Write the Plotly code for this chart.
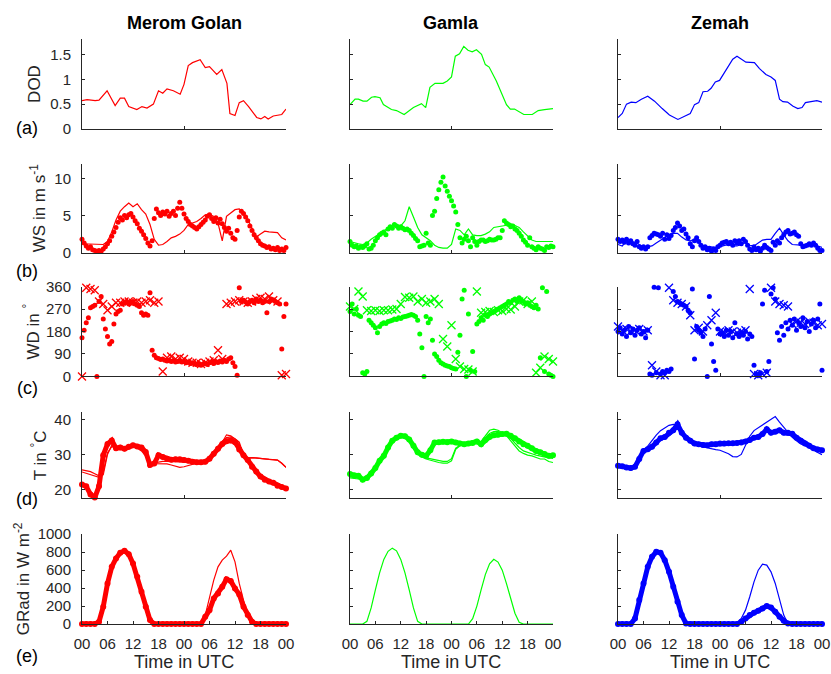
import plotly.graph_objects as go
from plotly.subplots import make_subplots

# ---------------- DATA ----------------
STATIONS = ["Merom Golan", "Gamla", "Zemah"]
ROW_LABELS = ["(a)", "(b)", "(c)", "(d)", "(e)"]
X_TICKS = [0, 6, 12, 18, 24, 30, 36, 42, 48]
X_TICKTEXT = ["00", "06", "12", "18", "00", "06", "12", "18", "00"]

HALF_HOURS = [i * 0.5 for i in range(97)]   # sampling grid of the observations
HOURS = list(range(49))                      # sampling grid of the model output

# DOD (model)
dod_t_merom = [0, 1.2, 3.1, 4, 5.9, 7.8, 9, 10, 11, 12.9, 14.1, 15.3, 16.8, 18, 19, 20, 21.5, 23.1, 24, 25,
               26, 27.8, 29, 30, 31.7, 32.9, 34.1, 34.8, 36, 37, 38, 39.2, 41.1, 42.1, 43, 43.8, 45, 47, 48]
dod_merom = [0.57, 0.59, 0.57, 0.58, 0.77, 0.47, 0.62, 0.62, 0.45, 0.39, 0.45, 0.42, 0.5, 0.77, 0.72, 0.81, 0.77,
             0.7, 0.9, 1.28, 1.34, 1.4, 1.24, 1.26, 1.1, 1.2, 0.92, 0.31, 0.27, 0.53, 0.57, 0.45, 0.23, 0.2, 0.25,
             0.2, 0.26, 0.29, 0.4]
dod_t_gamla = [0, 1.2, 2, 3.1, 4, 5.1, 5.9, 7.1, 7.9, 9.8, 11, 12.8, 15, 16.9, 17.9, 18.9, 20.1, 22, 23, 24,
               24.9, 25.9, 26.9, 27.9, 28.9, 29.9, 31.1, 32, 32.9, 34.6, 37, 37.9, 38.9, 41.1, 43.1, 44.5, 46, 48]
dod_gamla = [0.49, 0.6, 0.6, 0.56, 0.56, 0.64, 0.65, 0.63, 0.49, 0.39, 0.37, 0.29, 0.43, 0.51, 0.43, 0.84, 0.92,
             0.92, 0.97, 1.05, 1.47, 1.52, 1.67, 1.59, 1.56, 1.6, 1.51, 1.3, 1.25, 0.97, 0.49, 0.4, 0.4, 0.29, 0.29,
             0.37, 0.39, 0.41]
dod_t_zemah = [0, 1, 2, 3.1, 4.2, 5.5, 7, 8.6, 10.4, 12.1, 14.1, 15.7, 17, 18, 19, 20, 21.1, 21.9, 22.9, 23.9,
               25.4, 27, 28, 29, 30.1, 32.1, 33.3, 34.8, 36, 37, 38, 38.8, 39.9, 41.1, 42.3, 43.3, 44.1, 45.4, 46.8, 48]
dod_zemah = [0.23, 0.31, 0.5, 0.54, 0.53, 0.6, 0.66, 0.56, 0.41, 0.28, 0.19, 0.25, 0.31, 0.49, 0.53, 0.75, 0.76,
             0.82, 0.95, 0.98, 1.2, 1.41, 1.47, 1.42, 1.35, 1.34, 1.22, 1.1, 1.05, 0.98, 0.6, 0.55, 0.54, 0.46,
             0.41, 0.43, 0.53, 0.55, 0.57, 0.54]

# Wind speed, observations (half-hourly) and model (hourly)
ws_obs_merom = [1.8, 1.3, 0.9, 0.6, 0.8, 0.4, 0.3, 0.2, 0.3, 0.2,
                0.5, 0.8, 1.2, 1.6, 2.2, 2.8, 3.4, 4.1, 4.7, 4.4,
                5.0, 4.7, 5.1, 5.3, 4.8, 4.3, 3.9, 3.3, 2.9, 2.4,
                1.9, 1.3, 0.9, 1.6, 4.6, 5.9, 5.4, 5.0, 5.5, 5.2,
                5.6, 4.9, 5.3, 5.6, 5.0, 6.0, 6.8, 6.0, 5.2, 4.6,
                4.2, 3.8, 3.6, 3.4, 3.2, 3.5, 3.8, 4.1, 4.4, 4.9,
                5.1, 4.6, 4.2, 4.7, 4.0, 4.5, 3.9, 3.4, 2.9, 3.3,
                2.6, 2.0, 1.8, 3.0, 4.8, 5.6, 5.3, 4.8, 4.3, 3.6,
                3.0, 2.4, 2.0, 1.6, 1.2, 1.0, 0.9, 0.7, 0.8, 0.5,
                0.6, 0.4, 0.7, 0.3, 0.5, 0.3, 0.7]
ws_obs_gamla = [1.5, 1.0, 0.8, 0.9, 0.6, 0.8, 0.7, 0.9, 1.2, 0.5,
                0.6, 1.0, 1.6, 2.0, 2.4, 2.6, 2.8, 2.4, 3.2, 3.5,
                3.3, 3.8, 3.6, 3.3, 3.5, 3.3, 3.1, 3.2, 3.0, 2.6,
                2.3, 1.9, 1.6, 0.8, 0.9, 1.0, 2.6, 1.3, 1.0, 5.0,
                5.6, 7.3, 8.5, 9.5, 10.2, 9.0, 8.3, 7.6, 7.0, 6.3,
                5.5, 3.8, 2.0, 1.3, 1.8, 2.2, 1.6, 0.8, 2.0, 1.5,
                1.0, 1.5, 1.7, 1.7, 1.5, 1.6, 1.8, 1.7, 1.7, 1.8,
                2.0, 2.0, 3.0, 4.3, 4.0, 3.8, 3.5, 3.6, 3.2, 3.0,
                2.6, 2.2, 1.7, 1.4, 1.0, 2.0, 0.8, 0.6, 0.4, 0.8,
                0.6, 0.5, 0.3, 0.8, 0.7, 0.9, 0.8]
ws_obs_zemah = [1.8, 1.5, 1.7, 1.4, 1.8, 1.3, 1.6, 1.2, 1.0, 1.5,
                0.8, 0.6, 0.8, 0.5, 0.8, 2.0, 2.3, 2.6, 2.5, 2.4,
                2.2, 2.6, 1.8, 2.4, 1.9, 2.3, 3.0, 3.4, 4.0, 3.6,
                3.0, 3.2, 2.5, 2.0, 1.2, 0.8, 1.6, 2.0, 1.5, 1.0,
                0.6, 0.8, 0.4, 0.6, 0.2, 0.5, 0.3, 0.8, 1.0, 1.3,
                1.4, 1.5, 1.2, 1.4, 1.0, 1.6, 1.3, 1.6, 1.2, 1.8,
                1.5, 1.0, 0.5, 0.3, 0.8, 0.4, 0.6, 0.2, 0.6, 1.0,
                0.7, 0.5, 0.3, 1.4, 1.0, 1.6, 1.3, 2.0, 2.4, 2.8,
                3.0, 2.5, 2.6, 2.8, 2.4, 2.2, 1.2, 0.8, 0.9, 1.0,
                1.2, 1.0, 1.3, 1.0, 0.6, 0.3, 0.3]
ws_mod_merom = [1.2, 1.2, 1.2, 1.1, 1.1, 1.1, 1.5, 2.8, 4.4, 5.6,
                6.2, 6.7, 6.2, 6.6, 5.8, 5.2, 3.8, 1.8, 1.0, 1.1,
                1.5, 2.0, 2.2, 2.5, 3.0, 3.8, 4.0, 4.2, 4.6, 5.1,
                5.2, 4.9, 4.0, 1.6, 4.9, 5.3, 5.8, 5.9, 5.3, 4.5,
                3.4, 2.1, 2.5, 2.9, 2.8, 2.7, 2.7, 2.0, 1.7]
ws_mod_gamla = [1.5, 1.3, 1.2, 1.1, 1.3, 1.8, 2.2, 2.5, 2.9, 3.3,
                3.7, 3.8, 3.6, 4.3, 6.2, 4.8, 3.4, 2.4, 2.0, 1.6,
                1.0, 0.7, 0.6, 0.6, 1.1, 3.2, 3.0, 2.4, 3.2, 2.4,
                2.3, 2.3, 2.5, 2.8, 3.4, 3.5, 3.5, 3.7, 3.9, 3.7,
                3.4, 2.8, 2.2, 1.7, 1.5, 1.5, 1.6, 1.5, 1.5]
ws_mod_zemah = [1.1, 0.9, 1.6, 1.5, 1.4, 1.1, 0.8, 0.8, 0.9, 1.3,
                1.7, 2.0, 2.4, 2.6, 2.6, 2.1, 1.7, 1.6, 1.8, 1.5,
                1.0, 0.8, 0.7, 0.7, 0.8, 1.0, 1.1, 0.9, 0.9, 1.1,
                1.4, 1.0, 0.9, 1.3, 1.7, 1.8, 1.8, 2.6, 3.3, 2.4,
                1.6, 1.1, 1.0, 1.0, 1.1, 1.2, 1.1, 0.9, 0.7]

# Wind direction
wd_obs_merom = [155, 185, 215, 235, 275, 280, 285, 0, 300, 320,
                230, 190, 160, 130, 140, 210, 250, 260, 265, 290,
                295, 300, 290, 295, 300, 290, 285, 280, 255, 245,
                250, 245, 335, 105, 85, 75, 72, 68, 70, 65,
                62, 66, 60, 63, 58, 60, 62, 58, 60, 55,
                58, 52, 55, 50, 48, 52, 45, 50, 52, 48,
                55, 58, 52, 60, 56, 62, 58, 65, 60, 70,
                75, 55, 40, 5, 355, 300, 305, 298, 290, 300,
                305, 295, 310, 300, 305, 295, 300, 255, 300, 310,
                305, 300, 295, 290, 110, 240, 290]
wd_obs_gamla = [260, 290, 250, 270, 245, 240, 15, 10, 20, 225,
                215, 205, 195, 175, 200, 210, 215, 212, 220, 222,
                225, 230, 228, 235, 232, 238, 240, 242, 245, 248,
                245, 240, 225, 170, 115, 0, 240, 215, 230, 145,
                90, 80, 65, 55, 50, 45, 42, 40, 35, 32,
                30, 97, 165, 310, 345, 0, 250, 25, 100, 20,
                210, 220, 235, 225, 245, 240, 250, 255, 260, 265,
                270, 275, 280, 285, 290, 300, 295, 305, 310, 300,
                315, 305, 300, 290, 295, 285, 280, 275, 285, 270,
                75, 355, 20, 340, 10, 5, 0]
wd_obs_zemah = [180, 195, 170, 185, 160, 200, 175, 190, 165, 185,
                195, 170, 180, 155, 185, 10, 5, 357, 15, 355,
                10, 20, 15, 25, 20, 30, 340, 320, 300, 295,
                290, 285, 280, 265, 255, 350, 70, 200, 185, 175,
                160, 190, 0, 320, 130, 60, 25, 190, 170, 175,
                160, 185, 165, 180, 155, 215, 170, 160, 175, 165,
                180, 150, 170, 160, 45, 10, 5, 15, 290, 345,
                20, 60, 330, 355, 310, 175, 145, 200, 165, 215,
                190, 225, 205, 230, 185, 215, 200, 235, 195, 220,
                180, 210, 225, 195, 230, 290, 25]
wd_mod_merom = [0, 355, 350, 345, 300, 290, 265, 280, 295, 295,
                300, 300, 295, 300, 295, 300, 305, 295, 300, 20,
                75, 80, 70, 75, 70, 60, 55, 55, 50, 55,
                60, 65, 105, 70, 290, 295, 300, 305, 300, 295,
                300, 310, 315, 310, 320, 305, 300, 5, 10]
wd_mod_gamla = [280, 270, 340, 320, 265, 262, 265, 262, 265, 265,
                268, 270, 290, 318, 315, 320, 300, 310, 295, 300,
                310, 290, 150, 120, 205, 70, 40, 30, 28, 20,
                340, 255, 258, 262, 258, 265, 262, 270, 268, 280,
                300, 305, 290, 300, 15, 35, 80, 70, 60]
wd_mod_zemah = [200, 185, 190, 180, 185, 190, 180, 185, 45, 20,
                5, 5, 355, 305, 295, 290, 280, 245, 185, 195,
                180, 205, 225, 255, 180, 175, 185, 180, 175, 180,
                185, 350, 10, 5, 10, 15, 355, 300, 290, 285,
                280, 210, 220, 215, 210, 220, 215, 205, 210]

# Temperature (hourly)
t_obs_merom = [21.4, 20.9, 18.6, 17.7, 20.9, 29.8, 33.0, 34.0, 31.8, 32.0,
               31.6, 32.2, 32.6, 32.3, 32.0, 30.7, 27.0, 27.4, 29.8, 29.3,
               28.8, 28.5, 28.6, 28.6, 28.4, 28.2, 27.9, 27.8, 27.8, 27.9,
               28.8, 30.2, 31.6, 33.0, 33.8, 34.0, 33.5, 31.4, 29.8, 28.4,
               26.5, 25.1, 23.7, 22.8, 22.3, 21.9, 21.1, 20.7, 20.3]
t_mod_merom_a = [25.6, 25.4, 25.1, 24.5, 23.9, 24.2, 30.0, 32.6, 32.0, 32.0,
                 32.1, 32.2, 32.4, 32.0, 31.6, 30.5, 27.9, 27.4, 27.4, 27.3,
                 27.3, 27.0, 26.7, 26.3, 26.5, 26.9, 27.3, 27.5, 27.6, 28.0,
                 28.8, 30.0, 31.2, 33.5, 35.6, 35.3, 34.4, 33.0, 29.3, 28.8,
                 29.1, 29.0, 28.8, 28.7, 28.6, 28.5, 28.4, 27.5, 26.3]
t_mod_merom_b = [25.0, 24.6, 24.2, 23.8, 23.5, 25.0, 30.5, 32.2, 31.8, 31.6,
                 31.8, 32.0, 32.2, 31.8, 31.0, 29.5, 27.5, 27.6, 27.9, 28.0,
                 28.0, 27.9, 27.8, 27.7, 27.8, 27.9, 28.0, 28.0, 27.9, 28.2,
                 29.0, 30.5, 32.0, 33.8, 34.8, 35.0, 34.5, 33.5, 30.0, 29.0,
                 29.1, 29.0, 28.8, 28.7, 28.6, 28.5, 28.4, 27.5, 26.3]
t_obs_gamla = [24.4, 24.0, 23.9, 22.8, 23.3, 24.6, 26.1, 28.2, 29.6, 32.0,
               33.9, 34.8, 35.3, 35.2, 34.3, 32.5, 30.6, 29.9, 29.6, 31.2,
               33.4, 33.5, 33.6, 33.5, 33.7, 33.4, 33.1, 32.9, 33.1, 33.3,
               33.7, 32.9, 34.1, 35.0, 35.5, 35.6, 35.8, 35.9, 35.3, 34.6,
               33.7, 32.9, 32.5, 31.8, 31.0, 30.6, 30.1, 29.6, 29.8]
t_mod_gamla_a = [23.3, 23.2, 23.0, 22.7, 23.0, 24.5, 26.0, 28.0, 30.0, 32.0,
                 33.5, 34.5, 35.0, 35.0, 34.0, 32.5, 30.5, 29.3, 28.7, 28.3,
                 28.0, 27.7, 27.5, 27.5, 28.2, 31.5, 32.5, 32.7, 32.9, 33.4,
                 33.9, 33.7, 35.3, 36.9, 37.2, 36.9, 36.2, 35.3, 33.9, 32.5,
                 31.0, 30.3, 29.8, 29.6, 29.2, 28.7, 28.7, 28.0, 27.7]
t_mod_gamla_b = [23.6, 23.5, 23.3, 23.0, 23.2, 24.8, 26.3, 28.3, 30.2, 32.2,
                 33.6, 34.6, 35.1, 35.0, 34.2, 32.8, 30.8, 29.6, 29.0, 28.7,
                 28.4, 28.2, 28.0, 28.0, 28.8, 31.8, 32.6, 32.8, 33.0, 33.3,
                 33.6, 33.5, 34.8, 36.0, 36.5, 36.6, 36.0, 35.5, 34.5, 33.2,
                 32.0, 31.0, 30.5, 30.2, 29.8, 29.5, 29.2, 29.0, 28.9]
t_obs_zemah = [26.8, 26.6, 26.3, 26.1, 26.5, 28.7, 31.0, 31.5, 32.2, 33.4,
               34.6, 35.0, 36.2, 36.9, 38.6, 36.2, 34.8, 33.9, 33.1, 32.9,
               32.7, 32.6, 32.9, 32.9, 33.1, 33.1, 33.2, 33.2, 33.3, 33.4,
               33.7, 34.1, 34.8, 35.0, 35.8, 37.2, 36.2, 36.5, 36.9, 36.2,
               36.2, 35.9, 34.8, 33.9, 33.1, 32.5, 31.8, 31.4, 31.2]
t_mod_zemah = [26.3, 26.2, 26.1, 26.0, 26.3, 28.0, 30.8, 32.4, 33.8, 35.5,
               36.8, 37.6, 38.3, 38.6, 38.4, 36.5, 34.3, 33.6, 32.8, 32.4,
               32.1, 31.9, 31.6, 31.4, 31.2, 30.8, 30.2, 29.4, 29.3, 30.0,
               32.6, 35.2, 36.8, 37.6, 38.3, 39.0, 39.9, 40.8, 39.2, 37.8,
               36.2, 34.9, 33.9, 33.0, 32.5, 31.8, 31.1, 30.6, 29.9]

# Global radiation (hourly)
g_obs_merom = [0, 0, 0, 0, 26, 193, 452, 637, 730, 793,
               815, 778, 674, 526, 359, 193, 44, 0, 0, 0,
               0, 0, 0, 0, 0, 0, 0, 0, 0, 81,
               155, 285, 341, 415, 500, 480, 396, 330, 193, 100,
               26, 0, 0, 0, 0, 0, 0, 0, 0]
g_mod_merom = [0, 0, 0, 0, 20, 190, 450, 640, 730, 795,
               815, 775, 675, 525, 360, 190, 40, 0, 0, 0,
               0, 0, 0, 0, 0, 0, 0, 0, 0, 100,
               285, 489, 637, 711, 756, 822, 693, 452, 267, 118,
               0, 0, 0, 0, 0, 0, 0, 0, 0]
g_mod_gamla = [0, 0, 0, 0, 30, 180, 380, 570, 720, 810,
               845, 815, 720, 570, 380, 180, 30, 0, 0, 0,
               0, 0, 0, 0, 0, 0, 0, 0, 0, 60,
               200, 380, 550, 670, 720, 690, 600, 450, 280, 120,
               20, 0, 0, 0, 0, 0, 0, 0, 0]
g_obs_zemah = [0, 0, 0, 0, 63, 267, 452, 637, 748, 804,
               793, 711, 581, 415, 248, 100, 7, 0, 0, 0,
               0, 0, 0, 0, 0, 0, 0, 0, 0, 26,
               63, 100, 126, 148, 174, 200, 185, 137, 81, 37,
               7, 0, 0, 0, 0, 0, 0, 0, 0]
g_mod_zemah = [0, 0, 0, 0, 63, 267, 452, 637, 748, 804,
               793, 711, 581, 415, 248, 100, 7, 0, 0, 0,
               0, 0, 0, 0, 0, 0, 0, 0, 0, 63,
               155, 304, 470, 600, 667, 656, 581, 452, 267, 100,
               0, 0, 0, 0, 0, 0, 0, 0, 0]

# ---------------- FIGURE ----------------
# The paper area ends up inset by 8px inside the figure div, so the div is made
# 16px larger and pinned at (-8, -8): the paper then covers the 831x674 window.
PW, PH = 831, 674
INSET = 8
COLORS = ["#ff0000", "#00ff00", "#0000ff"]
AX = "#262626"
FONT = "Liberation Sans"

fig = make_subplots(rows=5, cols=3)

def obs_dots(x, y, color, r, c, size=5):
    fig.add_trace(go.Scatter(x=x, y=y, mode="markers", cliponaxis=False,
                             marker=dict(color=color, size=size, line=dict(width=0))), row=r, col=c)

def thick(x, y, color, r, c):
    fig.add_trace(go.Scatter(x=x, y=y, mode="lines+markers", cliponaxis=False,
                             line=dict(color=color, width=5),
                             marker=dict(color=color, size=6)), row=r, col=c)

def model_line(x, y, color, r, c):
    fig.add_trace(go.Scatter(x=x, y=y, mode="lines", line=dict(color=color, width=1.2)), row=r, col=c)

def crosses(x, y, color, r, c):
    fig.add_trace(go.Scatter(x=x, y=y, mode="markers", cliponaxis=False,
                             marker=dict(symbol="x-thin", size=8, color=color,
                                         line=dict(color=color, width=1.3))), row=r, col=c)

dod_t = [dod_t_merom, dod_t_gamla, dod_t_zemah]
dod_v = [dod_merom, dod_gamla, dod_zemah]
ws_o = [ws_obs_merom, ws_obs_gamla, ws_obs_zemah]
ws_m = [ws_mod_merom, ws_mod_gamla, ws_mod_zemah]
wd_o = [wd_obs_merom, wd_obs_gamla, wd_obs_zemah]
wd_m = [wd_mod_merom, wd_mod_gamla, wd_mod_zemah]
t_o = [t_obs_merom, t_obs_gamla, t_obs_zemah]
t_m = [[t_mod_merom_a, t_mod_merom_b], [t_mod_gamla_a, t_mod_gamla_b], [t_mod_zemah]]
g_o = [g_obs_merom, None, g_obs_zemah]
g_m = [g_mod_merom, g_mod_gamla, g_mod_zemah]

for c in range(3):
    col = COLORS[c]
    model_line(dod_t[c], dod_v[c], col, 1, c + 1)
    obs_dots(HALF_HOURS, ws_o[c], col, 2, c + 1)
    model_line(HOURS, ws_m[c], col, 2, c + 1)
    obs_dots(HALF_HOURS, wd_o[c], col, 3, c + 1)
    crosses(HOURS, wd_m[c], col, 3, c + 1)
    thick(HOURS, t_o[c], col, 4, c + 1)
    for m in t_m[c]:
        model_line(HOURS, m, col, 4, c + 1)
    if g_o[c] is not None:
        thick(HOURS, g_o[c], col, 5, c + 1)
    model_line(HOURS, g_m[c], col, 5, c + 1)

# positions in window pixels
col_px = [(82, 286), (350, 553), (618, 822)]
row_px = [(38, 128), (163, 252), (286, 376), (412, 498), (534, 624)]
y_ranges = [[0, 1.82], [0, 12], [0, 360], [17.5, 42], [0, 1000]]
y_ticks = [[0, 0.5, 1, 1.5], [0, 5, 10], [0, 90, 180, 270, 360], [20, 30, 40], [0, 200, 400, 600, 800, 1000]]
y_ticktext = [["0", "0.5", "1", "1.5"], ["0", "5", "10"], ["0", "90", "180", "270", "360"],
              ["20", "30", "40"], ["0", "200", "400", "600", "800", "1000"]]

def px_x(x):
    return x / PW

def px_y(y):
    return 1 - y / PH

tickfont = dict(family=FONT, size=15, color=AX)
for r in range(5):
    for c in range(3):
        idx = r * 3 + c + 1
        xs = "xaxis" if idx == 1 else f"xaxis{idx}"
        ys = "yaxis" if idx == 1 else f"yaxis{idx}"
        xkw = dict(
            domain=[px_x(col_px[c][0]), px_x(col_px[c][1])], range=[0, 48],
            showline=True, linecolor=AX, linewidth=1, mirror=False,
            ticks="inside", ticklen=3, tickwidth=1, tickcolor=AX,
            showgrid=False, zeroline=False, tickmode="array",
            showticklabels=(r == 4), tickfont=tickfont)
        if r == 4:
            xkw.update(tickvals=X_TICKS, ticktext=X_TICKTEXT, ticklabelstandoff=6,
                       ticklabeloverflow="allow")
        else:
            xkw.update(tickvals=[0, 24, 48])
        fig.layout[xs].update(**xkw)
        ykw = dict(
            domain=[px_y(row_px[r][1]), px_y(row_px[r][0])], range=y_ranges[r],
            showline=True, linecolor=AX, linewidth=1, mirror=False,
            ticks="inside", ticklen=3, tickwidth=1, tickcolor=AX,
            showgrid=False, zeroline=False, tickmode="array", tickvals=y_ticks[r],
            showticklabels=(c == 0), tickfont=tickfont)
        if c == 0:
            ykw.update(ticktext=y_ticktext[r], ticklabelstandoff=7)
        fig.layout[ys].update(**ykw)

annotations = []
for c, name in enumerate(STATIONS):
    cx = px_x((col_px[c][0] + col_px[c][1]) / 2)
    annotations.append(dict(text=f"<b>{name}</b>", x=cx, y=px_y(22), xref="paper", yref="paper",
                            showarrow=False, xanchor="center", yanchor="middle",
                            font=dict(family=FONT, size=18, color="black")))
    annotations.append(dict(text="Time in UTC", x=cx, y=px_y(662), xref="paper", yref="paper",
                            showarrow=False, xanchor="center", yanchor="middle",
                            font=dict(family=FONT, size=18, color=AX)))

y_titles = ["DOD", "WS in m s<sup>-1</sup>", "WD in <sup>°</sup>", "T in <sup>°</sup>C", "GRad in W m<sup>-2</sup>"]
y_title_x = [35, 38, 31, 39, 22]
label_y = [127, 270, 388, 499, 656]
for r in range(5):
    cy = (row_px[r][0] + row_px[r][1]) / 2
    annotations.append(dict(text=y_titles[r], x=px_x(y_title_x[r]), y=px_y(cy), xref="paper", yref="paper",
                            showarrow=False, xanchor="center", yanchor="middle", textangle=-90,
                            font=dict(family=FONT, size=17, color=AX)))
    annotations.append(dict(text=ROW_LABELS[r], x=px_x(27), y=px_y(label_y[r]), xref="paper", yref="paper",
                            showarrow=False, xanchor="center", yanchor="middle",
                            font=dict(family=FONT, size=18, color="black")))

fig.update_layout(width=PW + 2 * INSET, height=PH + 2 * INSET, autosize=False,
                  margin=dict(l=0, r=0, t=0, b=0, pad=0),
                  paper_bgcolor="white", plot_bgcolor="white", showlegend=False,
                  annotations=annotations)

PIN = ("var gd=document.getElementById('{plot_id}');"
       "gd.style.position='absolute';gd.style.left='-%dpx';gd.style.top='-%dpx';"
       "document.body.style.margin='0px';document.body.style.overflow='hidden';") % (INSET, INSET)
fig.write_html("out.html", config={"displayModeBar": False}, post_script=PIN)
